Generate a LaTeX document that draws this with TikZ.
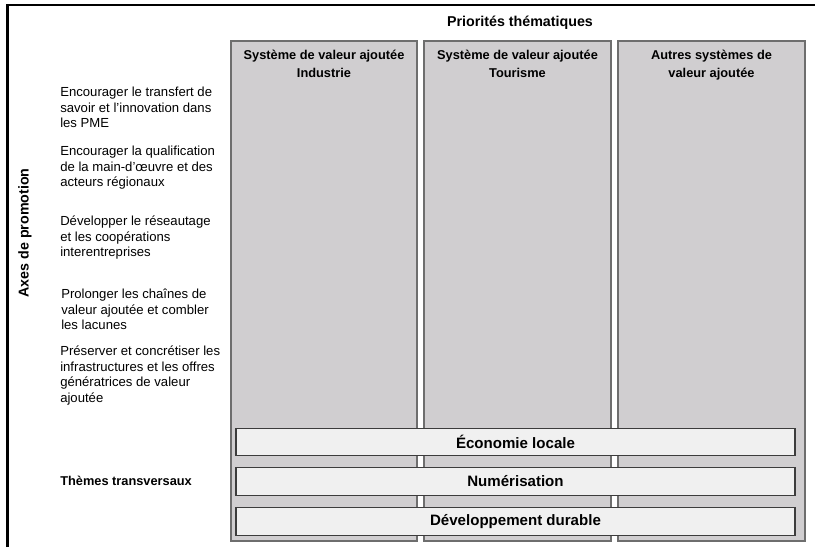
\documentclass[tikz,border=0pt]{standalone}
\usepackage{fontspec}
\setmainfont{Liberation Sans}
\usetikzlibrary{positioning}

\definecolor{colfill}{HTML}{D0CED0}
\definecolor{colline}{HTML}{6E6E6E}
\definecolor{barfill}{HTML}{F0F0F0}
\definecolor{barline}{HTML}{3C3C3C}

\begin{document}
\begin{tikzpicture}[x=0.75pt,y=-0.75pt,
  txt/.style={font=\fontsize{9.85}{11.6}\selectfont, align=left, anchor=north west, inner sep=0pt},
  head/.style={font=\fontsize{9.6}{13.5}\selectfont\bfseries, align=center, inner sep=0pt},
  title/.style={font=\fontsize{10.7}{12}\selectfont\bfseries, inner sep=0pt},
  colbox/.style={fill=colfill, draw=colline, line width=0.9pt},
  bar/.style={fill=barfill, draw=barline, line width=0.9pt, minimum width=419.25pt,
    minimum height=20.5pt, inner sep=0pt, font=\fontsize{11.3}{13}\selectfont\bfseries}]

\useasboundingbox (0,0) rectangle (815,547);

% frame
\draw[line width=1.6pt] (7.5,547) -- (7.5,5) -- (815,5);

\node[title] (prio) at (520,23) {Priorités thématiques};
\node[title, rotate=90] (axes) at (25,233) {Axes de promotion};

% value-added systems
\draw[colbox] (231,41) rectangle (417,541);
\draw[colbox] (424,41) rectangle (611,541);
\draw[colbox] (618,41) rectangle (805,541);

\node[head, anchor=base] (ind) at (324,77) {Système de valeur ajoutée\\Industrie};
\node[head, anchor=base] (tour) at (517.5,77) {Système de valeur ajoutée\\Tourisme};
\node[head, anchor=base] (autre) at (711.5,77) {Autres systèmes de\\valeur ajoutée};

% promotion axes
\node[txt] (ax1) at (60,87) {Encourager le transfert de\\savoir et l’innovation dans\\les PME};
\node[txt] (ax2) at (60,146) {Encourager la qualification\\de la main-d'œuvre et des\\acteurs régionaux};
\node[txt] (ax3) at (60,216) {Développer le réseautage\\et les coopérations\\interentreprises};
\node[txt] (ax4) at (61,289) {Prolonger les chaînes de\\valeur ajoutée et combler\\les lacunes};
\node[txt] (ax5) at (60,346) {Préserver et concrétiser les\\infrastructures et les offres\\génératrices de valeur\\ajoutée};

% cross-cutting themes
\node[head, anchor=west] (trans) at (60,481) {Thèmes transversaux};
\node[bar] (eco) at (515.5,442) {Économie locale};
\node[bar] (num) at (515.5,481.5) {Numérisation};
\node[bar] (dura) at (515.5,521.5) {Développement durable};

\end{tikzpicture}
\end{document}
